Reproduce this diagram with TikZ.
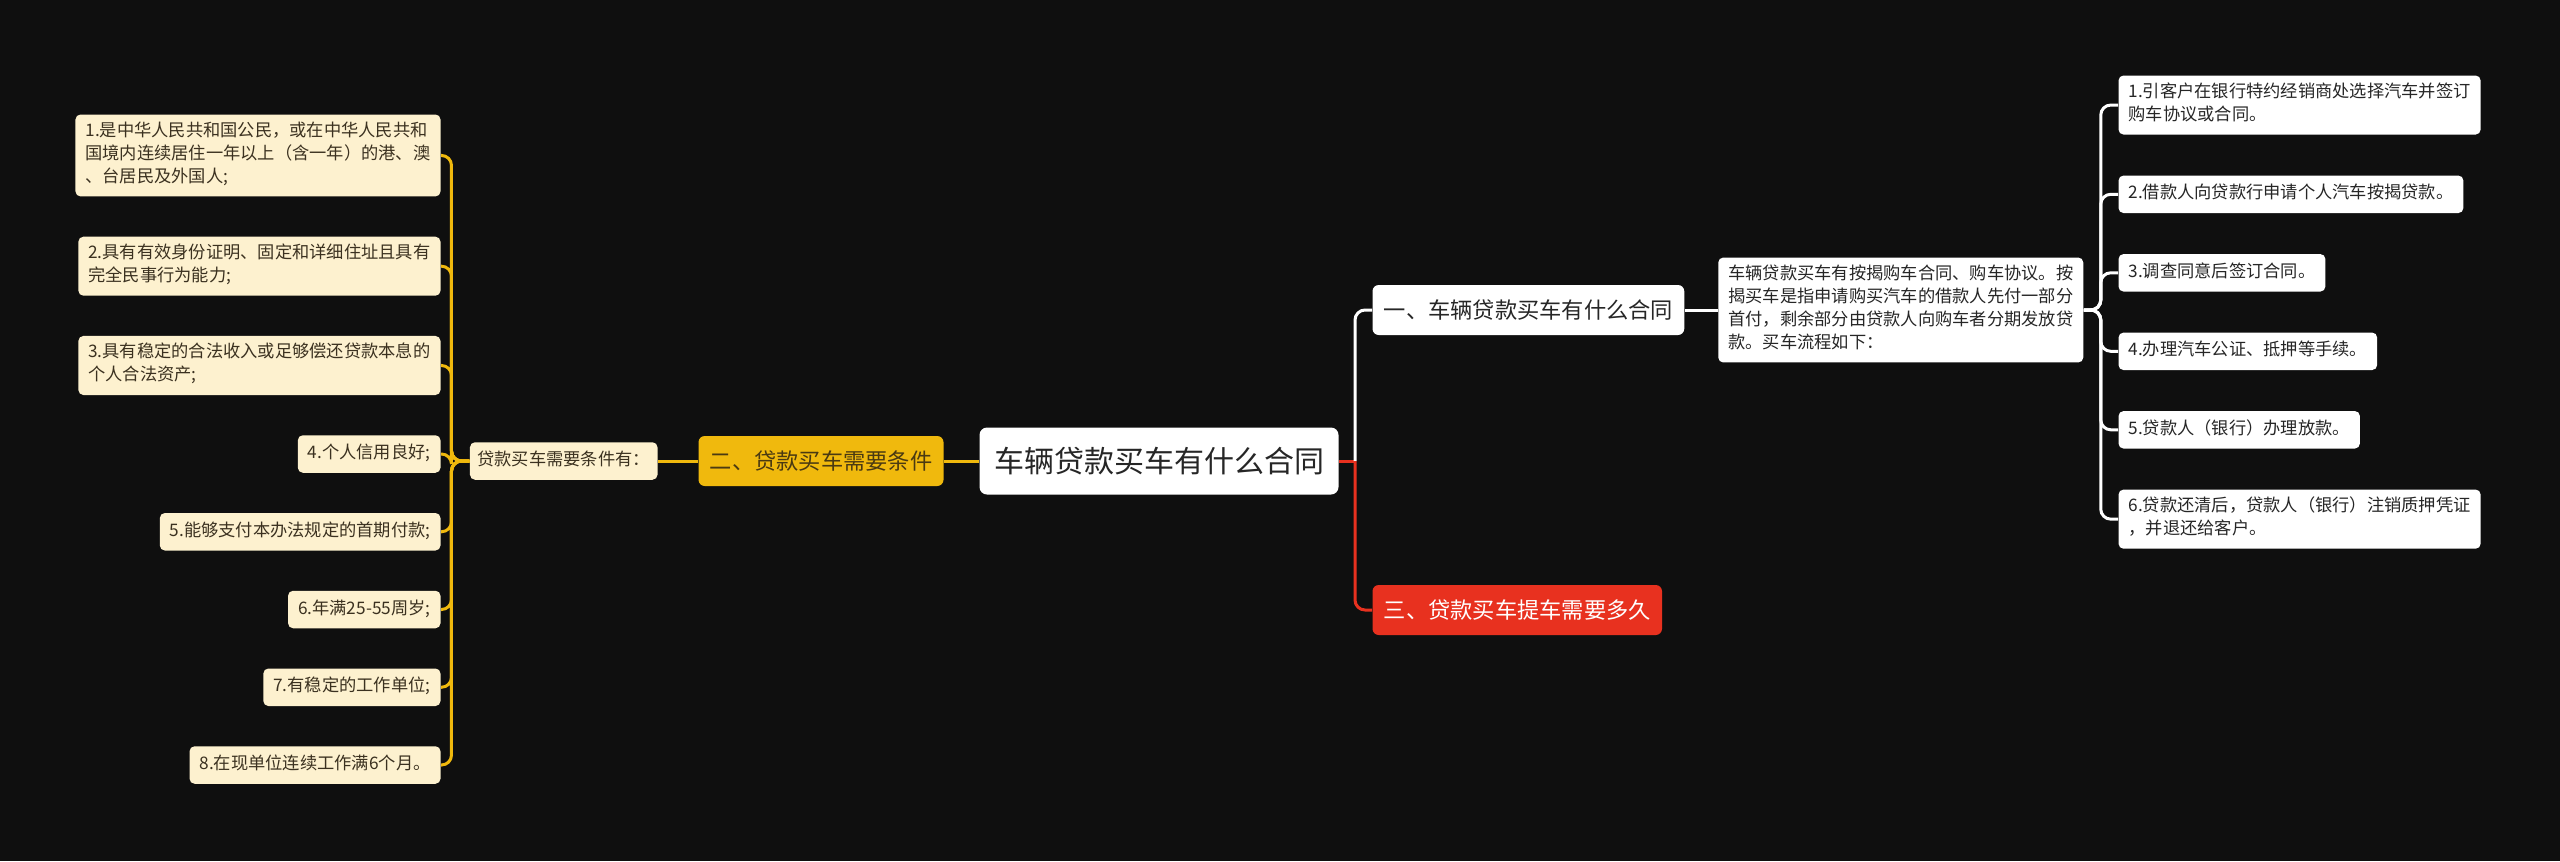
\documentclass[tikz,border=0pt]{standalone}
\usepackage{fontspec}
\setmainfont{Noto Sans CJK SC}
\usepackage{xcolor}
\usetikzlibrary{positioning}

\definecolor{bgdark}{HTML}{0F0F0F}
\definecolor{loanyellow}{HTML}{F0B90D}
\definecolor{loancream}{HTML}{FDF1CF}
\definecolor{loanred}{HTML}{E8311F}
\definecolor{creamtext}{HTML}{3B3120}
\definecolor{branchtext}{HTML}{4A3A12}
\definecolor{darktext}{HTML}{262626}

\begin{document}
\begin{tikzpicture}[
			x=0.4pt, y=0.4pt,
			base/.style={
				rounded corners=2pt,
				align=left,
				inner xsep=4pt,
				inner ysep=2.9pt,
				font=\fontsize{6.9}{9.2}\selectfont,
				execute at begin node=\strut,
				execute at end node=\strut
			},
			citem/.style={base, fill=loancream, text=creamtext},
			ritem/.style={base, fill=white, text=darktext},
			rootbox/.style={
				fill=white, text=darktext,
				rounded corners=3pt,
				font=\fontsize{12}{14}\selectfont,
				inner xsep=5.8pt,
				minimum height=26.8pt
			},
			branch/.style={
				rounded corners=2.5pt,
				font=\fontsize{8.9}{11}\selectfont,
				inner xsep=4.5pt,
				minimum height=20pt
			},
			yline/.style={draw=loanyellow, line width=1.2pt},
			wline/.style={draw=white, line width=1.2pt},
			rline/.style={draw=loanred, line width=1.2pt},
			node distance=15.7pt
			]
			
			\fill[bgdark] (0,0) rectangle (2560,-861);
			\useasboundingbox (0,0) rectangle (2560,-861);
			
			\node[rootbox] (root) at (1159,-461) {车辆贷款买车有什么合同};
			
			% left side
			\node[branch, fill=loanyellow, text=branchtext, left=14pt of root] (b2) {二、贷款买车需要条件};
			\node[citem, inner xsep=3pt, left=16pt of b2] (cond) {贷款买车需要条件有：};
			
			\node[citem, anchor=north east] (l1) at (441,-114) {1.是中华人民共和国公民，或在中华人民共和\\国境内连续居住一年以上（含一年）的港、澳\\、台居民及外国人;};
			\node[citem, below=of l1.south east, anchor=north east] (l2) {2.具有有效身份证明、固定和详细住址且具有\\完全民事行为能力;};
			\node[citem, below=of l2.south east, anchor=north east] (l3) {3.具有稳定的合法收入或足够偿还贷款本息的\\个人合法资产;};
			\node[citem, below=of l3.south east, anchor=north east] (l4) {4.个人信用良好;};
			\node[citem, below=of l4.south east, anchor=north east] (l5) {5.能够支付本办法规定的首期付款;};
			\node[citem, below=of l5.south east, anchor=north east] (l6) {6.年满25-55周岁;};
			\node[citem, below=of l6.south east, anchor=north east] (l7) {7.有稳定的工作单位;};
			\node[citem, below=of l7.south east, anchor=north east] (l8) {8.在现单位连续工作满6个月。};
			
			% right side
			\node[branch, fill=white, text=darktext, anchor=west] (b1) at (1372,-310) {一、车辆贷款买车有什么合同};
			\node[branch, fill=loanred, text=white, anchor=west] (b3) at (1372,-610) {三、贷款买车提车需要多久};
			\node[ritem, right=13.2pt of b1] (desc) {车辆贷款买车有按揭购车合同、购车协议。按\\揭买车是指申请购买汽车的借款人先付一部分\\首付，剩余部分由贷款人向购车者分期发放贷\\款。买车流程如下：};
			
			\node[ritem, anchor=north west] (r1) at (2118,-75) {1.引客户在银行特约经销商处选择汽车并签订\\购车协议或合同。};
			\node[ritem, below=16pt of r1.south west, anchor=north west] (r2) {2.借款人向贷款行申请个人汽车按揭贷款。};
			\node[ritem, below=16pt of r2.south west, anchor=north west] (r3) {3.调查同意后签订合同。};
			\node[ritem, below=16pt of r3.south west, anchor=north west] (r4) {4.办理汽车公证、抵押等手续。};
			\node[ritem, below=16pt of r4.south west, anchor=north west] (r5) {5.贷款人（银行）办理放款。};
			\node[ritem, below=16pt of r5.south west, anchor=north west] (r6) {6.贷款还清后，贷款人（银行）注销质押凭证\\，并退还给客户。};
			
			% connectors
			\coordinate (lsp) at ([xshift=-7.2pt]cond.west);
			\coordinate (rsp) at ([xshift=6.4pt]root.east);
			\coordinate (dsp) at ([xshift=6.8pt]desc.east);
			
			\draw[yline] (root.west) -- (b2.east);
			\draw[yline] (b2.west) -- (cond.east);
			\foreach \i in {1,...,8}
				\draw[yline, rounded corners=4pt] (cond.west) -- (lsp) |- (l\i.east);
			
			\draw[rline] (root.east) -- (rsp);
			\draw[wline, rounded corners=4pt] (rsp) |- (b1.west);
			\draw[rline, rounded corners=4pt] (rsp) |- (b3.west);
			\draw[wline] (b1.east) -- (desc.west);
			\foreach \i in {1,...,6}
				\draw[wline, rounded corners=4pt] (desc.east) -- (dsp) |- (r\i.west);
			
		\end{tikzpicture}
\end{document}
